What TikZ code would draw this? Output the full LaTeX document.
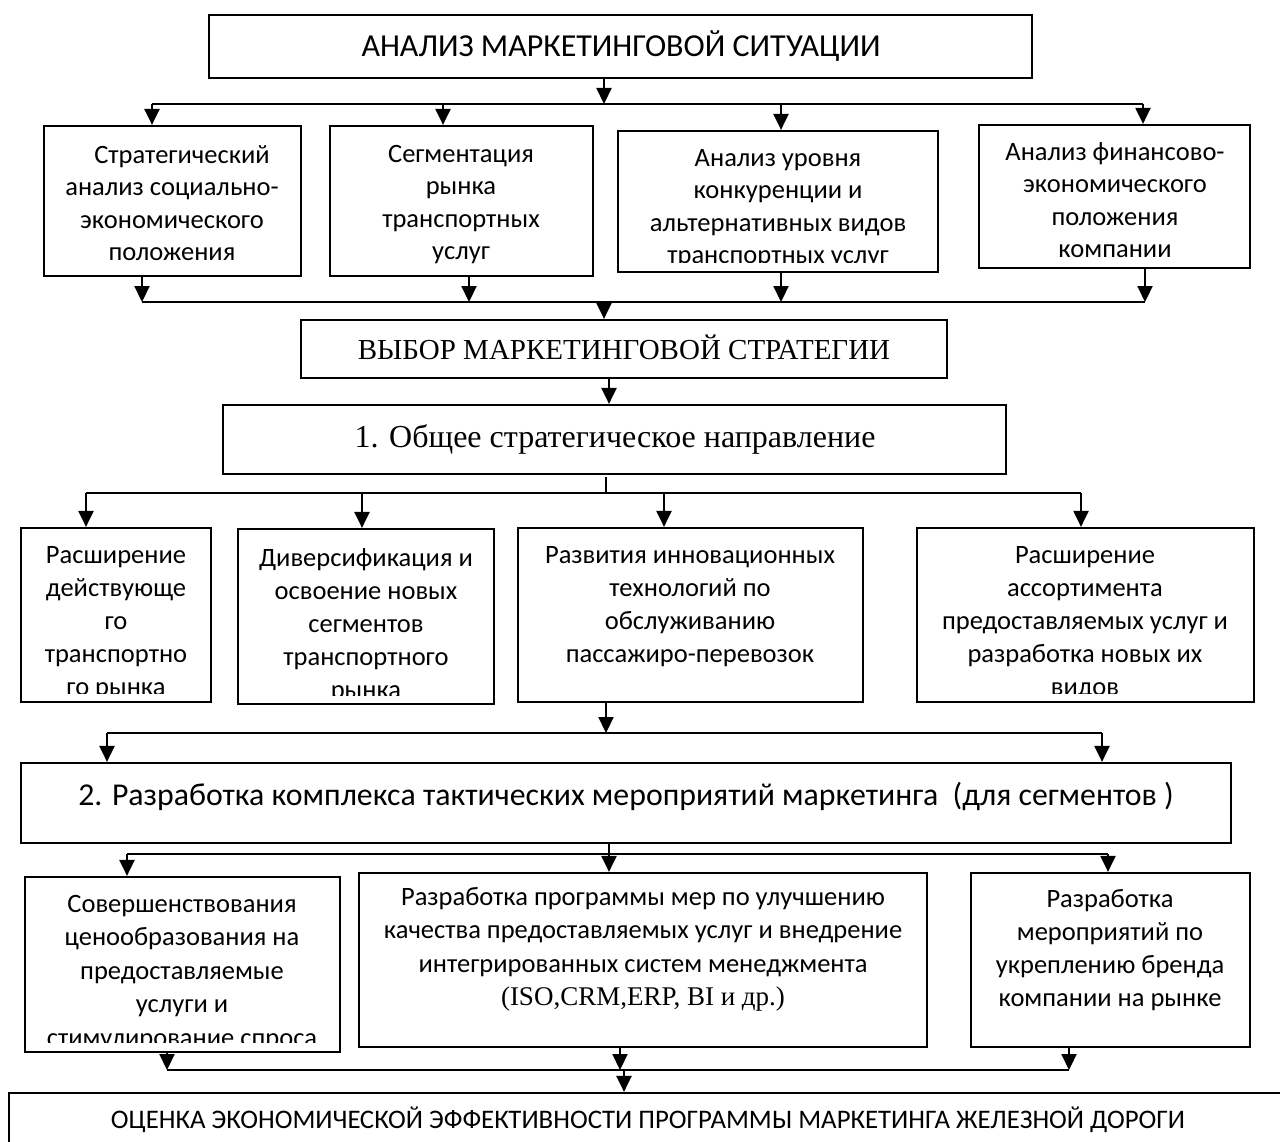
\documentclass[tikz,border=0pt]{standalone}
\usepackage{fontspec}
\setmainfont{Liberation Serif}
\newfontfamily\sfc{Carlito}
\usetikzlibrary{arrows.meta,fit}
\begin{document}
\begin{tikzpicture}[x=1pt,y=-1pt,
  bx/.style={draw, line width=2.2pt, inner sep=0pt},
  ln/.style={line width=2.2pt},
  arr/.style={line width=2.2pt, -{Triangle[length=16pt,width=15pt]}},
  tx/.style={align=center, inner sep=0pt, anchor=north, font=\sfc\fontsize{26.5}{32.5}\selectfont},
  tx3/.style={tx, font=\sfc\fontsize{26.5}{33}\selectfont},
  tx4/.style={tx, font=\sfc\fontsize{26.5}{33.5}\selectfont},
  ttl/.style={inner sep=0pt, anchor=base},
]
\useasboundingbox (0,0) rectangle (1280,1142);
\fill[white] (0,0) rectangle (1280,1142);

% ---------- boxes ----------
\node[bx, fit={(209,15) (1032,78)}] (top) {};
\node[bx, fit={(44,126) (301,276)}] (A) {};
\node[bx, fit={(330,126) (593,276)}] (B) {};
\node[bx, fit={(618,131) (938,272)}] (C) {};
\node[bx, fit={(979,125) (1250,268)}] (D) {};
\node[bx, fit={(301,320) (947,378)}] (sel) {};
\node[bx, fit={(223,405) (1006,474)}] (dir) {};
\node[bx, fit={(21,528) (211,702)}] (E) {};
\node[bx, fit={(238,529) (494,704)}] (F) {};
\node[bx, fit={(518,528) (863,702)}] (G) {};
\node[bx, fit={(917,528) (1254,702)}] (H) {};
\node[bx, fit={(21,763) (1231,843)}] (tact) {};
\node[bx, fit={(25,877) (340,1052)}] (I) {};
\node[bx, fit={(359,873) (927,1047)}] (J) {};
\node[bx, fit={(971,873) (1250,1047)}] (K) {};
\node[bx, fit={(9,1093) (1300,1170)}] (eval) {};

% ---------- titles ----------
\node[ttl, font=\sfc\fontsize{32}{38}\selectfont] (topt) at (621,57) {АНАЛИЗ МАРКЕТИНГОВОЙ СИТУАЦИИ};
\node[ttl, font=\fontsize{29}{34}\selectfont] (selt) at (624,359) {ВЫБОР МАРКЕТИНГОВОЙ СТРАТЕГИИ};
\node[ttl, font=\fontsize{32}{38}\selectfont] (dirt) at (615,447) {1. Общее стратегическое направление};
\node[ttl, font=\sfc\fontsize{31.8}{38}\selectfont] (tactt) at (626,805) {2. Разработка комплекса тактических мероприятий маркетинга\ \ (для сегментов )};
\node[ttl, font=\sfc\fontsize{26.8}{32}\selectfont] (evalt) at (648,1128) {ОЦЕНКА ЭКОНОМИЧЕСКОЙ ЭФФЕКТИВНОСТИ ПРОГРАММЫ МАРКЕТИНГА ЖЕЛЕЗНОЙ ДОРОГИ};

% ---------- box texts ----------
\node[tx] (At) at (172,145) {\hspace*{20pt}Стратегический\\анализ социально-\\экономического\\положения};
\node[tx] (Bt) at (461,145) {Сегментация\\рынка\\транспортных\\услуг};
\begin{scope}
\clip (618,131) rectangle (938,263);
\node[tx] (Ct) at (778,149) {Анализ уровня\\конкуренции и\\альтернативных видов\\транспортных услуг};
\end{scope}
\begin{scope}
\clip (979,125) rectangle (1250,258);
\node[tx] (Dt) at (1115,142) {Анализ финансово-\\экономического\\положения\\компании};
\end{scope}
\begin{scope}
\clip (21,528) rectangle (211,693);
\node[tx3] (Et) at (116,546) {Расширение\\действующе\\го\\транспортно\\го рынка};
\end{scope}
\begin{scope}
\clip (238,529) rectangle (494,695);
\node[tx3] (Ft) at (366,548) {Диверсификация и\\освоение новых\\сегментов\\транспортного\\рынка};
\end{scope}
\node[tx3] (Gt) at (690,546) {Развития инновационных\\технологий по\\обслуживанию\\пассажиро-перевозок};
\begin{scope}
\clip (917,528) rectangle (1254,693);
\node[tx3] (Ht) at (1085,546) {Расширение\\ассортимента\\предоставляемых услуг и\\разработка новых их\\видов};
\end{scope}
\begin{scope}
\clip (25,877) rectangle (340,1042);
\node[tx4] (It) at (182,895) {Совершенствования\\ценообразования на\\предоставляемые\\услуги и\\стимулирование спроса};
\end{scope}
\node[tx4] (Jt) at (643,887) {Разработка программы мер по улучшению\\качества предоставляемых услуг и внедрение\\интегрированных систем менеджмента\\{\rmfamily\fontsize{27}{33}\selectfont (ISO,CRM,ERP, BI и др.)}};
\node[tx3] (Kt) at (1110,889) {Разработка\\мероприятий по\\укреплению бренда\\компании на рынке};

% ---------- junction coordinates ----------
\coordinate (j1) at (604,104);
\coordinate (b1a) at (152,104);
\coordinate (b1b) at (443,104);
\coordinate (b1c) at (781,104);
\coordinate (b1d) at (1143,104);

\coordinate (b2a) at (142,302);
\coordinate (b2b) at (469,302);
\coordinate (b2c) at (781,302);
\coordinate (b2d) at (1145,302);
\coordinate (j2) at (604,302);

\coordinate (j3) at (609,390);

\coordinate (j4t) at (606,477);
\coordinate (j4) at (606,493);
\coordinate (b3a) at (86,493);
\coordinate (b3b) at (362,493);
\coordinate (b3c) at (664,493);
\coordinate (b3d) at (1081,493);

\coordinate (j5) at (606,733);
\coordinate (b4a) at (107,733);
\coordinate (b4b) at (1102,733);

\coordinate (j6) at (609,854);
\coordinate (b5a) at (127,854);
\coordinate (b5b) at (1108,854);

\coordinate (b6a) at (167,1070);
\coordinate (b6b) at (620,1070);
\coordinate (b6c) at (1069,1070);
\coordinate (j7) at (624,1070);

% ---------- connectors ----------
% level 1 -> level 2
\draw[arr] (top.south -| j1) -- (j1);
\draw[ln] (b1a) -- (b1d);
\draw[arr] (b1a) -- (A.north -| b1a);
\draw[arr] (b1b) -- (B.north -| b1b);
\draw[arr] (b1c) -- (C.north -| b1c);
\draw[arr] (b1d) -- (D.north -| b1d);
% level 2 -> selection
\draw[arr] (A.south -| b2a) -- (b2a);
\draw[arr] (B.south -| b2b) -- (b2b);
\draw[arr] (C.south -| b2c) -- (b2c);
\draw[arr] (D.south -| b2d) -- (b2d);
\draw[ln] (b2a) -- (b2d);
\draw[arr] (j2) -- (sel.north -| j2);
% selection -> direction
\draw[arr] (sel.south -| j3) -- (dir.north -| j3);
% direction -> level 3
\draw[ln] (j4t) -- (j4);
\draw[ln] (b3a) -- (b3d);
\draw[arr] (b3a) -- (E.north -| b3a);
\draw[arr] (b3b) -- (F.north -| b3b);
\draw[arr] (b3c) -- (G.north -| b3c);
\draw[arr] (b3d) -- (H.north -| b3d);
% level 3 -> tactics
\draw[arr] (G.south -| j5) -- (j5);
\draw[ln] (b4a) -- (b4b);
\draw[arr] (b4a) -- (tact.north -| b4a);
\draw[arr] (b4b) -- (tact.north -| b4b);
% tactics -> level 4
\draw[arr] (tact.south -| j6) -- (J.north -| j6);
\draw[ln] (b5a) -- (b5b);
\draw[arr] (b5a) -- (I.north -| b5a);
\draw[arr] (b5b) -- (K.north -| b5b);
% level 4 -> evaluation
\draw[arr] (I.south -| b6a) -- (b6a);
\draw[arr] (J.south -| b6b) -- (b6b);
\draw[arr] (K.south -| b6c) -- (b6c);
\draw[ln] (b6a) -- (b6c);
\draw[arr] (j7) -- (eval.north -| j7);
\end{tikzpicture}
\end{document}
